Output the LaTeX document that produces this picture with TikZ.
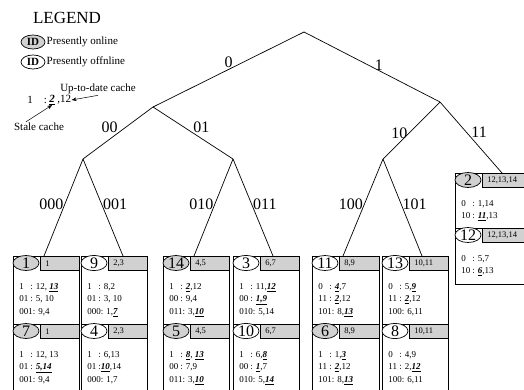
\documentclass[tikz,border=0pt]{standalone}
\usepackage{fontspec}
\setmainfont{Liberation Serif}
\usetikzlibrary{shapes.geometric}
\usetikzlibrary{arrows.meta}

\newcommand{\stale}[1]{\underline{\textbf{\textit{#1}}}}
\newcommand{\pre}[1]{\makebox[11pt][l]{#1}}

\begin{document}
\begin{tikzpicture}[x=1pt, y=-1pt, line width=0.7pt]

\tikzset{
    peerframe/.style = {draw, anchor=north west, inner sep=0pt},
    peer/.style = {draw, ellipse, inner sep=0pt, minimum width=26pt, minimum height=15pt,
        font=\fontsize{16}{16}\selectfont},
    online/.style = {peer, fill=black!18},
    offline/.style = {peer, fill=white},
    idrange/.style = {draw, fill=black!18, anchor=north west, minimum height=14pt,
        inner xsep=5pt, inner ysep=0pt, align=left, font=\fontsize{8.5}{8.5}\selectfont},
    cache/.style = {anchor=north west, align=left, inner sep=0pt,
        font=\fontsize{9}{12.5}\selectfont},
    lbl/.style = {font=\fontsize{16}{16}\selectfont, inner sep=1pt},
    legendkey/.style = {draw, ellipse, inner sep=0pt, minimum width=24pt, minimum height=14pt,
        font=\fontsize{11}{11}\selectfont\bfseries}
}

\useasboundingbox (0,0) rectangle (524,390);
\clip (0,0) rectangle (524,390);

% legend
\node (legend) [font=\fontsize{17}{17}\selectfont] at (67,18) {LEGEND};
\node (id-on) [legendkey, fill=black!18] at (33,42) {ID};
\node (txt-on) [right, inner sep=1pt, font=\fontsize{11}{11}\selectfont] at (id-on.east) {Presently online};
\node (id-off) [legendkey, fill=white] at (33,62) {ID};
\node (txt-off) [right, inner sep=1pt, font=\fontsize{11}{11}\selectfont] at (id-off.east) {Presently offnline};

\node (ex-a) [anchor=west, inner sep=0pt, font=\fontsize{11}{11}\selectfont] at (27,100) {1\hspace{11pt}:\,};
\node (ex-b) [right, inner sep=0pt, font=\fontsize{11}{11}\selectfont] at (ex-a.east) {\stale{2}};
\node (ex-c) [right, inner sep=0pt, font=\fontsize{11}{11}\selectfont] at (ex-b.east) {\,,12};
\node (upd) [inner sep=1pt, font=\fontsize{11}{11}\selectfont] at (98,89) {Up-to-date cache};
\node (stale) [inner sep=1pt, font=\fontsize{11}{11}\selectfont] at (39,127) {Stale cache};
\draw[line width=0.5pt, -{Stealth[length=5pt]}] (upd.south) -- (ex-c.east);
\draw[line width=0.5pt, -{Stealth[length=5pt]}] ([xshift=-13pt]stale.north) -- (ex-b.south);

% peers
\foreach \n/\x/\y/\w/\h/\s/\r/\t [evaluate=\w as \rw using \w-27, evaluate=\w as \tw using \w-37] in {
    1/13/256/66/68/online/1/{\pre{1}: 12, \stale{13}\\\pre{01}: 5, 10\\001: 9,4},
    7/13/324/66/71/online/1/{\pre{1}: 12, 13\\\pre{01}: \stale{5,14}\\001: 9,4},
    9/81/256/66/68/offline/{2,3}/{\pre{1}: 8,2\\\pre{01}: 3, 10\\000: 1,\stale{7}},
    4/81/324/66/71/offline/{2,3}/{\pre{1}: 6,13\\\pre{01}:\stale{10},14\\000: 1,7},
    14/163/256/66/68/online/{4,5}/{\pre{1}: \stale{2},12\\\pre{00}: 9,4\\011: 3,\stale{10}},
    5/163/324/66/71/online/{4,5}/{\pre{1}: \stale{8}, \stale{13}\\\pre{00}: 7,9\\011: 3,\stale{10}},
    3/233/256/66/68/offline/{6,7}/{\pre{1}: 11,\stale{12}\\\pre{00}: \stale{1,9}\\010: 5,14},
    10/233/324/66/71/offline/{6,7}/{\pre{1}: 6,\stale{8}\\\pre{00}: \stale{1},7\\010: 5,\stale{14}},
    11/312/256/67/68/offline/{8,9}/{\pre{0}: \stale{4},7\\\pre{11}: \stale{2},12\\101: 8,\stale{13}},
    6/312/324/67/71/online/{8,9}/{\pre{1}: 1,\stale{3}\\\pre{11}: \stale{2},12\\101: 8,\stale{13}},
    13/382/256/66/68/offline/{10,11}/{\pre{0}: 5,\stale{9}\\\pre{11}: \stale{2},12\\100: 6,11},
    8/382/324/66/71/offline/{10,11}/{\pre{0}: 4,9\\\pre{11}: 2,\stale{12}\\100: 6,11},
    2/455/173/75/55/online/{12,13,14}/{\pre{0}: 1,14\\\pre{10}: \stale{11},13},
    12/455/228/75/56/offline/{12,13,14}/{\pre{0}: 5,7\\\pre{10}: \stale{6},13}}{
    \node (box-\n) [peerframe, minimum width=\w pt, minimum height=\h pt] at (\x,\y) {};
    \node (p-\n) [\s] at (\x+13,\y+7) {\n};
    \node (r-\n) [idrange, text width=\tw pt] at (\x+27,\y) {\r};
    \node (c-\n) [cache] at (\x+6,\y+27) {\t};
}

% tree
\coordinate (root) at (304,32);
\coordinate (n-0) at (153,107);
\coordinate (n-1) at (440,102);
\coordinate (n-00) at (83,159);
\coordinate (n-01) at (233,159);
\coordinate (n-10) at (383,159);

\draw (root) -- node[lbl, midway, above] {0} (n-0);
\draw (root) -- node[lbl, pos=0.55, above, inner sep=0pt] {1} (n-1);
\draw (n-0) -- node[lbl, midway, above left, inner sep=0pt] {00} (n-00);
\draw (n-0) -- node[lbl, midway, above right, inner sep=0pt] {01} (n-01);
\draw (n-1) -- node[lbl, pos=0.55, left] {10} (n-10);
\draw (n-1) -- node[lbl, midway, above right, inner sep=0pt] {11} ([xshift=20pt]r-2.north west);

\foreach \a/\b/\l/\d/\o in {n-00/1/000/4/left, n-00/9/001/15/right, n-01/14/010/4/left,
    n-01/3/011/13/right, n-10/11/100/4/left, n-10/13/101/13/right}{
    \draw (\a) -- node[lbl, pos=0.47, \o] {\l} ([xshift=\d pt]r-\b.north west);
}

\end{tikzpicture}
\end{document}
